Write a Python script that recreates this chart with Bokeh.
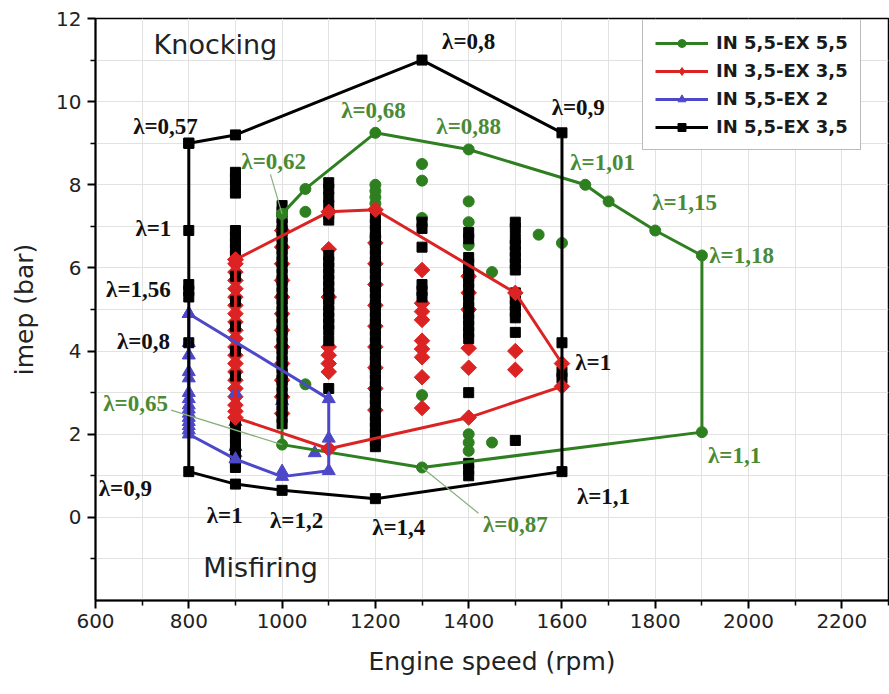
import numpy as np
from bokeh.plotting import figure
from bokeh.models import Range1d, FixedTicker, Legend, LegendItem
from bokeh.embed import file_html
from bokeh.resources import INLINE
from bokeh.core.properties import value

# ---- operating envelopes (closed polygons: engine speed rpm / imep bar) ----
black_env_rpm = [800, 900, 1300, 1600, 1600, 1200, 1000, 900, 800, 800]
black_env_imep = [9.0, 9.2, 11.0, 9.25, 1.1, 0.45, 0.65, 0.8, 1.1, 9.0]

green_env_rpm = [1000, 1050, 1200, 1400, 1650, 1700, 1800, 1900, 1900, 1300, 1000, 1000]
green_env_imep = [7.3, 7.9, 9.25, 8.85, 8.0, 7.6, 6.9, 6.3, 2.05, 1.2, 1.75, 7.3]

red_env_rpm = [900, 1100, 1200, 1500, 1600, 1600, 1400, 1100, 900, 900]
red_env_imep = [6.2, 7.35, 7.4, 5.4, 3.7, 3.15, 2.4, 1.65, 2.4, 6.2]

blue_env_rpm = [800, 1100, 1100, 1000, 900, 800, 800]
blue_env_imep = [4.9, 2.85, 1.12, 0.98, 1.4, 2.0, 4.9]

# ---- measured operating points, per engine speed ----
blk_800 = [6.9, 5.6, 5.45, 5.3, 4.2]
blk_900 = [8.3, 8.15, 8.0, 7.8, 6.9, 6.75, 6.6, 6.45, 6.3, 5.8, 5.2, 4.6, 4.0,
           3.4, 2.2, 2.05, 1.9, 1.75, 1.6, 1.45, 1.3, 1.2]
blk_1000 = [7.5, 7.35, 7.2, 7.05, 6.9, 6.75, 6.6, 6.45, 6.3, 6.15, 6.0, 5.85, 5.7,
            5.55, 5.4, 5.25, 5.1, 4.95, 4.8, 4.65, 4.5, 4.35, 4.2, 4.05, 3.9, 3.75,
            3.6, 3.45, 3.3, 3.15, 3.0, 2.85, 2.7, 2.55, 2.4, 2.25]
blk_1100 = [8.05, 7.9, 7.7, 7.5, 7.3, 7.15, 6.3, 6.15, 6.0, 5.85, 5.7, 5.55, 5.4,
            5.25, 5.1, 4.95, 4.8, 4.65, 4.5, 4.25, 3.1]
blk_1200 = [7.2, 7.05, 6.9, 6.75, 6.6, 6.45, 6.3, 6.15, 6.0, 5.85, 5.7, 5.55, 5.4,
            5.25, 5.1, 4.95, 4.8, 4.65, 4.5, 4.35, 4.2, 4.05, 3.9, 3.75, 3.6, 3.45,
            3.3, 3.15, 3.0, 2.85, 2.7, 2.45, 2.3, 2.15, 2.0, 1.85, 1.7]
blk_1300 = [7.1, 6.95, 6.5, 5.6, 5.45, 5.3]
blk_1400 = [6.85, 6.7, 6.25, 6.1, 5.95, 5.8, 5.65, 5.5, 5.35, 5.2, 5.05, 4.9, 4.75,
            4.6, 4.45, 4.3, 3.0, 1.3, 1.15, 1.0]
blk_1500 = [7.1, 6.95, 6.7, 6.55, 6.4, 6.25, 6.1, 5.95, 5.4, 5.25, 5.1, 4.95, 4.8,
            4.45, 1.85]
blk_1600 = [4.2, 3.5, 3.35]

red_900 = [6.1, 5.9, 5.7, 5.5, 5.3, 5.1, 4.9, 4.7, 4.5, 4.3, 4.1, 3.9, 3.7, 3.5,
           3.3, 3.1, 2.9, 2.7, 2.55]
red_1000 = [6.9, 6.5, 6.1, 5.7, 5.3, 4.9, 4.5, 4.1, 3.7, 3.3, 2.9, 2.5]
red_1100 = [6.45, 5.3, 4.1, 3.9, 3.7, 3.5]
red_1200 = [6.6, 6.1, 5.6, 5.1, 4.6, 4.1, 3.6, 3.1, 2.58]
red_1300 = [5.95, 5.15, 4.95, 4.75, 4.25, 4.05, 3.85, 3.37, 2.63]
red_1400 = [5.8, 5.4, 5.0, 4.07, 3.6]
red_1500 = [4.0, 3.55]

grn_1050 = [7.35, 3.2]
grn_1200 = [8.0, 7.85, 7.7, 7.55, 6.75]
grn_1300 = [8.5, 8.1, 7.2, 2.94]
grn_1400 = [7.6, 7.1, 6.55, 2.0, 1.8, 1.6]
grn_1450 = [5.9, 1.8]
grn_1550 = [6.8]
grn_1600 = [6.6]

blu_800 = [4.2, 3.9, 3.5, 3.35, 3.0, 2.85, 2.7, 2.6, 2.5, 2.4, 2.3, 2.2, 2.1]
blu_900 = [3.0, 2.3, 1.7, 1.55]
blu_1000 = [2.8, 1.1]
blu_1070 = [1.55]
blu_1100 = [1.9]

# ---- air-excess ratio annotations ----
lam_black_text = ["λ=0,57", "λ=0,8", "λ=0,9", "λ=1", "λ=1,56", "λ=0,8", "λ=0,9",
                  "λ=1", "λ=1,2", "λ=1,4", "λ=1,1", "λ=1"]
lam_black_rpm = [750, 1400, 1635, 724, 692, 703, 664, 877, 1031, 1250, 1689, 1667]
lam_black_imep = [9.4, 11.45, 9.85, 6.96, 5.47, 4.24, 0.7, 0.05, -0.07, -0.24, 0.5, 3.73]

lam_green_text = ["λ=0,68", "λ=0,88", "λ=0,62", "λ=1,01", "λ=1,15", "λ=1,18",
                  "λ=1,1", "λ=0,65", "λ=0,87"]
lam_green_rpm = [1196, 1400, 982, 1687, 1863, 1985, 1970, 686, 1500]
lam_green_imep = [9.78, 9.4, 8.55, 8.53, 7.57, 6.31, 1.49, 2.75, -0.17]

# leader lines from labels to their envelope corners
lead_x0 = [975, 762, 1300]
lead_y0 = [8.25, 2.58, 1.2]
lead_x1 = [1000, 1000, 1421]
lead_y1 = [7.3, 1.75, 0.1]

GREEN = "#2e7f1f"
GREEN_TXT = "#4b8a35"
RED = "#dc2323"
BLUE = "#4c48c8"
BLACK = "#000000"

LAM_FONT = value("Liberation Serif")
LAM_SIZE = "23px"


def flatten(columns):
    xs, ys = [], []
    for rpm, vals in columns:
        xs += [rpm] * len(vals)
        ys += list(vals)
    return xs, ys


grn_x, grn_y = flatten([(1050, grn_1050), (1200, grn_1200), (1300, grn_1300),
                        (1400, grn_1400), (1450, grn_1450), (1550, grn_1550),
                        (1600, grn_1600)])
red_x, red_y = flatten([(900, red_900), (1000, red_1000), (1100, red_1100),
                        (1200, red_1200), (1300, red_1300), (1400, red_1400),
                        (1500, red_1500)])
blu_x, blu_y = flatten([(800, blu_800), (900, blu_900), (1000, blu_1000),
                        (1070, blu_1070), (1100, blu_1100)])
blk_x, blk_y = flatten([(800, blk_800), (900, blk_900), (1000, blk_1000),
                        (1100, blk_1100), (1200, blk_1200), (1300, blk_1300),
                        (1400, blk_1400), (1500, blk_1500), (1600, blk_1600)])

p = figure(width=889, height=694, x_range=Range1d(600, 2300), y_range=Range1d(-2, 12),
           output_backend="svg", toolbar_location=None,
           min_border_left=95, min_border_right=1, min_border_top=18, min_border_bottom=94)
p.background_fill_color = "white"
p.border_fill_color = "white"
p.outline_line_color = "black"
p.outline_line_width = 1.5

p.xaxis.ticker = FixedTicker(ticks=list(range(600, 2201, 200)),
                             minor_ticks=list(range(700, 2301, 200)))
p.yaxis.ticker = FixedTicker(ticks=list(range(0, 13, 2)), minor_ticks=list(range(-1, 12, 2)))
p.xaxis.axis_label = "Engine speed (rpm)"
p.yaxis.axis_label = "imep (bar)"
for ax in (p.xaxis[0], p.yaxis[0]):
    ax.axis_line_width = 2
    ax.axis_line_color = "black"
    ax.major_tick_line_width = 2
    ax.major_tick_out = 8
    ax.major_tick_in = 0
    ax.minor_tick_line_width = 1.5
    ax.minor_tick_out = 5
    ax.minor_tick_in = 0
    ax.major_label_text_font = "DejaVu Sans"
    ax.major_label_text_font_size = "20px"
    ax.major_label_text_color = "#222222"
    ax.axis_label_text_font = "DejaVu Sans"
    ax.axis_label_text_font_size = "25px"
    ax.axis_label_text_font_style = "normal"
    ax.axis_label_text_color = "#222222"
p.xaxis.major_label_standoff = 5
p.yaxis.major_label_standoff = 6
p.xaxis.axis_label_standoff = 16
p.yaxis.axis_label_standoff = 14

for g in (p.xgrid[0], p.ygrid[0]):
    g.grid_line_color = "#e2e2e2"
    g.grid_line_width = 1
    g.minor_grid_line_color = "#e2e2e2"
    g.minor_grid_line_width = 1

DIAMOND = dict(marker="square", angle=np.pi / 4, size=11)

# scattered operating points
p.scatter(grn_x, grn_y, marker="circle", size=11, fill_color=GREEN, line_color=GREEN)
p.scatter(red_x, red_y, fill_color=RED, line_color=RED, **DIAMOND)
p.scatter(blu_x, blu_y, marker="triangle", size=13, fill_color=BLUE, line_color=BLUE)
p.scatter(blk_x, blk_y, marker="square", size=10, fill_color=BLACK, line_color=BLACK)

# envelopes
g_line = p.line(green_env_rpm, green_env_imep, line_width=3, line_color=GREEN)
g_mk = p.scatter(green_env_rpm, green_env_imep, marker="circle", size=11,
                 fill_color=GREEN, line_color=GREEN)
r_line = p.line(red_env_rpm, red_env_imep, line_width=3, line_color=RED)
p.scatter(red_env_rpm, red_env_imep, fill_color=RED, line_color=RED, **DIAMOND)
# single upright diamond on the first red corner; this one carries the legend symbol
r_mk = p.scatter(red_env_rpm[:1], red_env_imep[:1], marker="diamond", size=15,
                 fill_color=RED, line_color=RED)
b_line = p.line(blue_env_rpm, blue_env_imep, line_width=3, line_color=BLUE)
b_mk = p.scatter(blue_env_rpm, blue_env_imep, marker="triangle", size=13,
                 fill_color=BLUE, line_color=BLUE)
k_line = p.line(black_env_rpm, black_env_imep, line_width=3, line_color=BLACK)
k_mk = p.scatter(black_env_rpm, black_env_imep, marker="square", size=10,
                 fill_color=BLACK, line_color=BLACK)

# leader lines and lambda labels
p.segment(lead_x0, lead_y0, lead_x1, lead_y1, line_color="#86b07a", line_width=1.2)
p.text(lam_black_rpm, lam_black_imep, text=lam_black_text, text_color="#111111",
       text_font=LAM_FONT, text_font_style="bold", text_font_size=LAM_SIZE,
       text_align="center", text_baseline="middle")
p.text(lam_green_rpm, lam_green_imep, text=lam_green_text, text_color=GREEN_TXT,
       text_font=LAM_FONT, text_font_style="bold", text_font_size=LAM_SIZE,
       text_align="center", text_baseline="middle")

# region names
p.text([857], [11.37], text=["Knocking"], text_color="#222222",
       text_font=value("DejaVu Sans"), text_font_size="27px",
       text_align="center", text_baseline="middle")
p.text([954], [-1.2], text=["Misfiring"], text_color="#222222",
       text_font=value("DejaVu Sans"), text_font_size="27px",
       text_align="center", text_baseline="middle")

legend = Legend(items=[
    LegendItem(label="IN 5,5-EX 5,5", renderers=[g_line, g_mk]),
    LegendItem(label="IN 3,5-EX 3,5", renderers=[r_line, r_mk]),
    LegendItem(label="IN 5,5-EX 2", renderers=[b_line, b_mk]),
    LegendItem(label="IN 5,5-EX 3,5", renderers=[k_line, k_mk]),
], location=(547, 450), glyph_width=53, glyph_height=20, label_height=20, spacing=7,
    padding=12, label_standoff=8, border_line_color="#777777", border_line_width=1.5,
    label_text_font="DejaVu Sans", label_text_font_style="bold",
    label_text_font_size="18px", label_text_color="#1a1a1a",
    background_fill_color="white", background_fill_alpha=1.0)
p.add_layout(legend)

open("out.html", "w").write(file_html(p, INLINE))
